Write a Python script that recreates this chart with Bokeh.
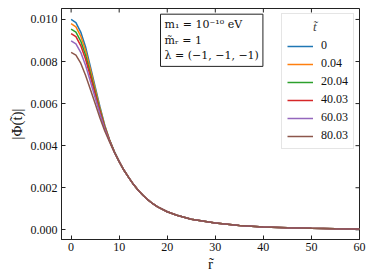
from bokeh.plotting import figure
from bokeh.models import (Range1d, FixedTicker, PrintfTickFormatter,
                          Legend, LegendItem, Label)
from bokeh.embed import file_html
from bokeh.resources import INLINE
import math

# ---- data ----
r_head = [0, 1, 2, 3, 4, 5, 6, 7, 8, 9, 10]
r_tail = [11, 12, 13, 14, 15, 16, 17, 18, 20, 22, 25, 30, 35, 40, 45, 50, 55, 60]
phi_tail = [0.00283, 0.00248, 0.00215, 0.00187, 0.00163, 0.00142, 0.00124, 0.00109,
            0.00086, 0.00069, 0.00050, 0.00032, 0.00021, 0.00014, 0.00010, 0.00007,
            0.00005, 0.00004]

t_labels = ["0", "0.04", "20.04", "40.03", "60.03", "80.03"]
phi_t0 = [0.01000, 0.00985, 0.00940, 0.00870, 0.00777, 0.00680, 0.00585, 0.00497, 0.00428, 0.00372, 0.00325]
phi_t004 = [0.00980, 0.00965, 0.00921, 0.00853, 0.00763, 0.00670, 0.00578, 0.00494, 0.00427, 0.00371, 0.00325]
phi_t2004 = [0.00954, 0.00940, 0.00897, 0.00831, 0.00745, 0.00657, 0.00570, 0.00489, 0.00425, 0.00371, 0.00324]
phi_t4003 = [0.00933, 0.00918, 0.00876, 0.00812, 0.00730, 0.00646, 0.00562, 0.00485, 0.00424, 0.00370, 0.00324]
phi_t6003 = [0.00898, 0.00884, 0.00844, 0.00782, 0.00706, 0.00628, 0.00551, 0.00479, 0.00421, 0.00369, 0.00324]
phi_t8003 = [0.00843, 0.00830, 0.00792, 0.00735, 0.00668, 0.00600, 0.00532, 0.00470, 0.00418, 0.00368, 0.00323]
series = [phi_t0, phi_t004, phi_t2004, phi_t4003, phi_t6003, phi_t8003]
colors = ["#1f77b4", "#ff7f0e", "#2ca02c", "#d62728", "#9467bd", "#8c564b"]

x_ticks = [0, 10, 20, 30, 40, 50, 60]
y_ticks = [0.0, 0.002, 0.004, 0.006, 0.008, 0.010]

FONT = "Liberation Serif"
AX = "#222222"
X0, X1, Y0, Y1 = -2, 60, -0.00046, 0.01052

p = figure(width=374, height=280, output_backend="svg", toolbar_location=None,
           x_range=Range1d(X0, X1), y_range=Range1d(Y0, Y1),
           min_border_left=61, min_border_right=15, min_border_top=8, min_border_bottom=41)
p.xgrid.visible = False
p.ygrid.visible = False
p.outline_line_color = AX
p.outline_line_width = 1
p.background_fill_color = "white"
p.border_fill_color = "white"

for ax in (p.xaxis[0], p.yaxis[0]):
    ax.major_tick_in = 4
    ax.major_tick_out = 0
    ax.minor_tick_in = 0
    ax.minor_tick_out = 0
    ax.axis_line_color = AX
    ax.major_tick_line_color = AX
    ax.major_label_text_font = FONT
    ax.major_label_text_font_size = "12px"
    ax.major_label_text_color = "#111111"
    ax.axis_label_text_font = FONT
    ax.axis_label_text_font_style = "normal"
    ax.axis_label_text_font_size = "15px"
    ax.axis_label_text_color = "#111111"

p.xaxis[0].ticker = FixedTicker(ticks=x_ticks)
p.yaxis[0].ticker = FixedTicker(ticks=y_ticks)
p.yaxis[0].formatter = PrintfTickFormatter(format="%.3f")
p.xaxis[0].major_label_standoff = 3
p.yaxis[0].major_label_standoff = 4
p.xaxis[0].axis_label = "r\u0303"
p.yaxis[0].axis_label = "|\u03a6(t\u0303)|"
p.xaxis[0].axis_label_standoff = 2
p.yaxis[0].axis_label_standoff = 3

# mirrored inward ticks on top and right edges (dash markers clipped by the frame)
p.scatter(x=x_ticks, y=[Y1] * len(x_ticks), marker="dash", size=8, angle=math.pi / 2,
          line_color=AX, line_width=1)
p.scatter(x=[X1] * len(y_ticks), y=y_ticks, marker="dash", size=8,
          line_color=AX, line_width=1)

items = []
for lab, ys, c in zip(t_labels, series, colors):
    rr = r_head + r_tail
    yy = ys + phi_tail
    rend = p.line(rr, yy, line_color=c, line_width=1.5)
    items.append(LegendItem(label=lab, renderers=[rend]))

legend = Legend(items=items, location="top_right", title="\u00a0" * 8 + "t\u0303",
                title_text_font=FONT, title_text_font_style="italic",
                title_text_font_size="13px", title_standoff=3,
                label_text_font=FONT, label_text_font_size="12px", label_text_color="#111111",
                glyph_width=26, glyph_height=14, label_height=14, label_standoff=8,
                spacing=3, padding=5, margin=5,
                border_line_color="#cccccc", border_line_width=1,
                background_fill_color="white", background_fill_alpha=0.9)
p.add_layout(legend)

p.add_layout(Label(x=18.6, y=0.01025,
                   text="m\u2081 = 10\u207b\u00b9\u2070 eV\nm\u0303\u1d63 = 1\n\u03bb = (\u22121, \u22121, \u22121)",
                   text_font="DejaVu Serif", text_font_size="11px", text_color="#111111",
                   text_align="left", text_baseline="top", text_line_height=1.2,
                   border_line_color="#222222", border_line_width=1,
                   background_fill_color="white", padding=4))

open("out.html", "w").write(file_html(p, INLINE))
